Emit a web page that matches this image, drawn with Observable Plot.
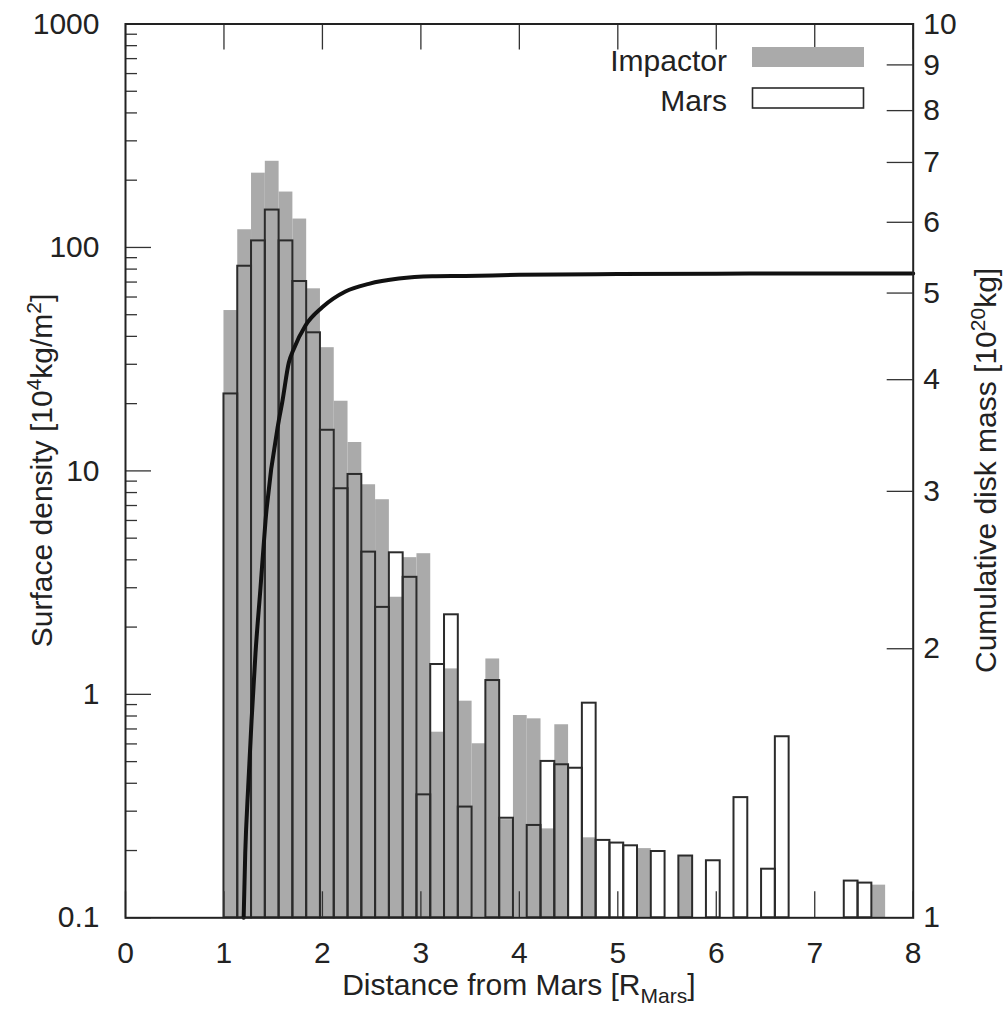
<!DOCTYPE html>
<html><head><meta charset="utf-8">
<script src="https://cdn.jsdelivr.net/npm/d3@7"></script>
<script src="https://cdn.jsdelivr.net/npm/@observablehq/plot@0.6"></script>
<style>body{margin:0;background:#fff}</style>
</head><body><div id="chart"></div>
<script>
// ---- data ----
const binLeft = [1.00,1.14,1.28,1.42,1.56,1.70,1.84,1.98,2.12,2.26,2.40,2.54,2.68,2.82,2.96,3.10,
  3.24,3.38,3.52,3.66,3.80,3.94,4.08,4.22,4.36,4.50,4.64,4.78,4.92,5.06,5.20,5.34,5.48,5.62,5.76,
  5.90,6.04,6.18,6.32,6.46,6.60,6.74,6.88,7.02,7.16,7.30,7.44,7.58];
const binWidth = 0.14;
const impactor = [52.2,120,215,243,177,134,65.3,35.6,20.5,13.4,8.67,7.43,2.72,4.09,4.26,0.677,
  1.30,0.932,0.601,1.44,0.275,0.804,0.777,0.250,0.731,null,0.228,null,null,null,0.204,null,null,0.189,
  null,null,null,null,null,null,null,null,null,null,null,null,null,0.140];
const mars = [22.1,82.4,107,147,107,70.4,41.5,15.2,8.32,9.64,4.33,2.45,4.30,3.34,0.355,1.36,
  2.27,0.313,null,1.153,0.279,null,0.259,0.501,0.484,0.467,0.913,0.222,0.216,0.210,null,0.198,null,0.189,
  null,0.180,null,0.345,null,0.165,0.646,null,null,null,null,0.146,0.143,null];
const cumX = [1.20,1.216,1.246,1.28,1.32,1.371,1.422,1.557,1.592,1.659,1.709,1.828,1.998,2.234,2.471,2.776,3.115,3.453,4.0,5.0,6.0,7.0,8.0];
const cumMass = [1.0,1.18,1.40,1.66,1.975,2.34,2.78,3.60,3.775,4.18,4.33,4.60,4.82,5.02,5.12,5.19,5.22,5.225,5.24,5.25,5.255,5.26,5.26];
const xTicks = [0,1,2,3,4,5,6,7,8];
const leftTicks = [0.1,1,10,100,1000];
const leftMinor = [0.1,1,10,100].flatMap(d => [2,3,4,5,6,7,8,9].map(k => d*k));
const rightTicks = [1,2,3,4,5,6,7,8,9,10];
const legendLabels = ["Impactor","Mars"];

// ---- layout ----
const W = 1008, H = 1010;
const mL = 125, mR = 95.3, mT = 23.5, mB = 92.7;
const pW = W - mL - mR, pH = H - mT - mB;
const FONT = "Liberation Sans, Arial, Helvetica, sans-serif";
const FS = 30;

// right axis (1..10, log) shares pixel span with left axis (0.1..1000, log)
const toLeft = m => 0.1 * Math.pow(m, 4);

const impData = binLeft.map((x, i) => ({x1: x, x2: x + binWidth, v: impactor[i]})).filter(d => d.v != null);
const marsData = binLeft.map((x, i) => ({x1: x, x2: x + binWidth, v: mars[i]})).filter(d => d.v != null);
const cumData = cumX.map((x, i) => ({x, m: cumMass[i]}));

const svg = Plot.plot({
  width: W, height: H,
  marginLeft: mL, marginRight: mR, marginTop: mT, marginBottom: mB,
  style: {fontFamily: FONT, fontSize: FS + "px", color: "#222", background: "#fff"},
  x: {domain: [0, 8]},
  y: {type: "log", domain: [0.1, 1000]},
  marks: [
    Plot.rect(impData, {x1: "x1", x2: "x2", y1: () => 0.1, y2: "v", fill: "#aaaaaa"}),
    Plot.rect(marsData, {x1: "x1", x2: "x2", y1: () => 0.1, y2: "v", fill: "none", stroke: "#2b2b2b", strokeWidth: 2}),
    Plot.line(cumData, {x: "x", y: d => toLeft(d.m), stroke: "#111", strokeWidth: 4, strokeLinejoin: "round", curve: "monotone-x"}),
    Plot.tickY(leftTicks, {y: d => d, insetRight: pW - 26, stroke: "#333", strokeWidth: 1.3}),
    Plot.tickY(leftMinor, {y: d => d, insetRight: pW - 12, stroke: "#333", strokeWidth: 1.3}),
    Plot.tickY(rightTicks.slice(1, -1), {y: d => toLeft(d), insetLeft: pW - 26, stroke: "#333", strokeWidth: 1.3}),
    Plot.tickX(xTicks, {x: d => d, insetTop: pH - 26, stroke: "#333", strokeWidth: 1.3}),
    Plot.tickX(xTicks, {x: d => d, insetBottom: pH - 26, stroke: "#333", strokeWidth: 1.3}),
    Plot.frame({stroke: "#222", strokeWidth: 2}),
    Plot.axisY(leftTicks, {anchor: "left", tickSize: 0, tickPadding: 26, tickFormat: d => String(d), label: null, fontSize: FS}),
    Plot.text(rightTicks, {y: d => toLeft(d), text: d => String(d), frameAnchor: "right", dx: 10, textAnchor: "start", fontSize: FS, fill: "#222"}),
    Plot.axisX(xTicks, {anchor: "bottom", tickSize: 0, tickPadding: 23.5, tickFormat: d => String(d), label: null, fontSize: FS})
  ]
});

document.getElementById("chart").appendChild(svg);

// ---- titles & legend ----
const s = d3.select(svg);
const cy = mT + pH / 2;

function addTitle(parts, transform) {
  const t = s.append("text").attr("transform", transform)
    .attr("text-anchor", "middle").attr("font-family", FONT).attr("font-size", FS).attr("fill", "#222");
  let shift = 0;
  for (const [str, kind] of parts) {
    const target = kind === "sup" ? -11 : kind === "sub" ? 8 : 0;
    t.append("tspan").attr("dy", target - shift).attr("font-size", kind ? 21 : FS).text(str);
    shift = target;
  }
}
addTitle([["Surface density [10"], ["4", "sup"], ["kg/m"], ["2", "sup"], ["]"]],
  `translate(52,${cy}) rotate(-90)`);
addTitle([["Cumulative disk mass [10"], ["20", "sup"], ["kg]"]],
  `translate(996,${cy}) rotate(-90)`);
addTitle([["Distance from Mars [R"], ["Mars", "sub"], ["]"]],
  `translate(${mL + pW / 2},995)`);

// legend
const lg = s.append("g").attr("font-family", FONT).attr("font-size", FS).attr("fill", "#222");
lg.append("text").attr("x", 727).attr("y", 71).attr("text-anchor", "end").text(legendLabels[0]);
lg.append("rect").attr("x", 752).attr("y", 47).attr("width", 112).attr("height", 20).attr("fill", "#aaaaaa");
lg.append("text").attr("x", 727).attr("y", 111).attr("text-anchor", "end").text(legendLabels[1]);
lg.append("rect").attr("x", 752.5).attr("y", 88).attr("width", 111).attr("height", 20)
  .attr("fill", "#fff").attr("stroke", "#2b2b2b").attr("stroke-width", 1.6);
</script>
</body></html>
